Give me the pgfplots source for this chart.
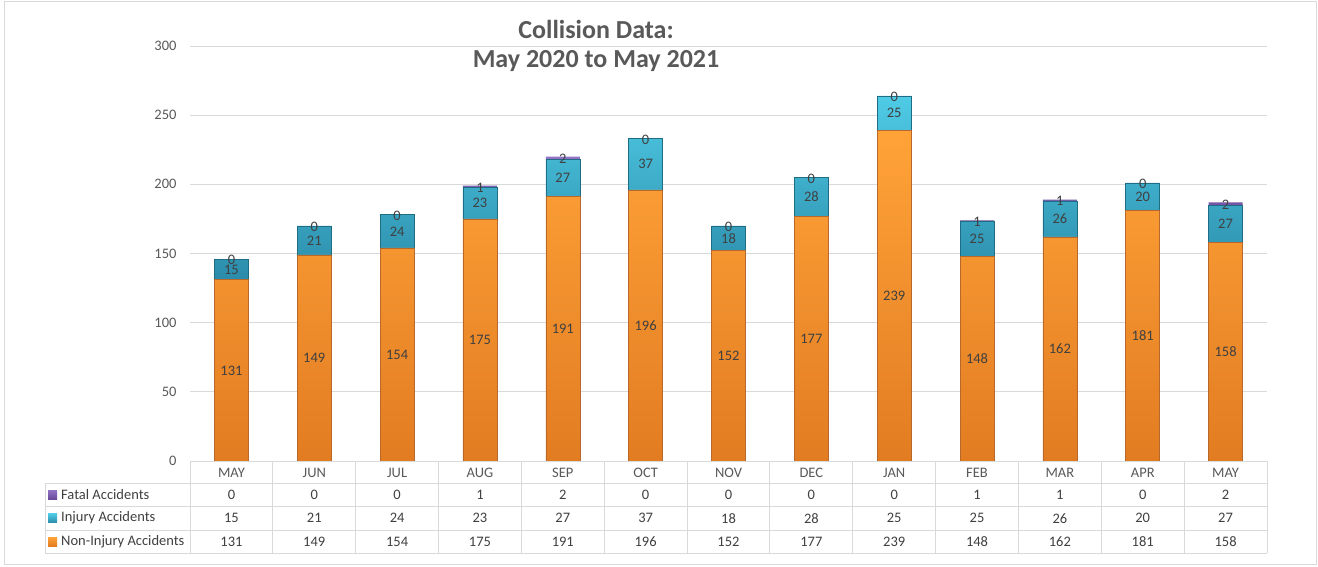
\documentclass[border=0pt]{standalone}
\usepackage{pgfplots}
\pgfplotsset{compat=1.18}
\usepackage{pgfplotstable}
\usepackage{fontspec}
\setmainfont{Carlito}
\definecolor{txt}{HTML}{595959}
\definecolor{lbl}{HTML}{404040}
\definecolor{gridc}{HTML}{D9D9D9}
\definecolor{orA}{HTML}{FFA338}
\definecolor{orB}{HTML}{E27C22}
\definecolor{orE}{HTML}{B8682A}
\definecolor{blA}{HTML}{4FCBE6}
\definecolor{blB}{HTML}{2B8CAA}
\definecolor{blE}{HTML}{1F6D85}
\definecolor{puA}{HTML}{9273C4}
\definecolor{puB}{HTML}{6A4A9A}
\newcommand{\fs}{\fontsize{14.5}{17}\selectfont}

\pgfplotstableread{
x month noninj injury fatal
0 MAY 131 15 0
1 JUN 149 21 0
2 JUL 154 24 0
3 AUG 175 23 1
4 SEP 191 27 2
5 OCT 196 37 0
6 NOV 152 18 0
7 DEC 177 28 0
8 JAN 239 25 0
9 FEB 148 25 1
10 MAR 162 26 1
11 APR 181 20 0
12 MAY 158 27 2
}\data

\begin{document}
\begin{tikzpicture}[x=1pt,y=1pt]
\useasboundingbox (0,0) rectangle (1318,566);
\fill[white] (0,0) rectangle (1318,566);
\draw[gridc, line width=1pt] (4,1.5) rectangle (1316,564.5);
\begin{axis}[
  at={(190pt,105pt)}, anchor=south west,
  scale only axis, width=1077pt, height=415pt,
  xmin=-0.5, xmax=12.5, ymin=0, ymax=300,
  ybar stacked, bar width=34pt,
  ytick={0,50,...,300},
  xtick=data,
  xticklabels from table={\data}{month},
  ymajorgrids, grid style={gridc, line width=1pt},
  axis line style={draw=none},
  major tick length=0pt,
  /pgf/number format/assume math mode=true,
  yticklabel style={font=\fs, text=txt, xshift=-10pt},
  xticklabel style={font=\fs, text=txt, anchor=center, yshift=-12pt},
  clip=false,
  point meta=explicit,
  nodes near coords style={font=\fs, text=lbl, anchor=center},
]
\addplot[top color=orA, bottom color=orB, draw=orE, line width=0.6pt,
  nodes near coords]
  table[x=x, y=noninj, meta=noninj] {\data};
\addplot[top color=blA, bottom color=blB, draw=blE, line width=0.6pt,
  nodes near coords]
  table[x=x, y=injury, meta=injury] {\data};
\addplot[top color=puA, bottom color=puB, draw=none]
  table[x=x, y=fatal, meta=fatal] {\data};
\pgfplotsinvokeforeach{0,...,12}{
  \pgfplotstablegetelem{#1}{fatal}\of\data \let\vf\pgfplotsretval
  \pgfplotstablegetelem{#1}{injury}\of\data \let\vi\pgfplotsretval
  \pgfplotstablegetelem{#1}{noninj}\of\data \let\vn\pgfplotsretval
  \edef\temp{%
    \noexpand\node[font=\noexpand\fs, text=lbl] at (axis cs:#1,-24.4) {\vf};
    \noexpand\node[font=\noexpand\fs, text=lbl] at (axis cs:#1,-41.4) {\vi};
    \noexpand\node[font=\noexpand\fs, text=lbl] at (axis cs:#1,-58.2) {\vn};}%
  \temp
}
\end{axis}
% overlay axis for the fatal labels on top of the stacks
\begin{axis}[
  at={(190pt,105pt)}, anchor=south west,
  scale only axis, width=1077pt, height=415pt,
  xmin=-0.5, xmax=12.5, ymin=0, ymax=300,
  hide axis, clip=false,
  point meta=explicit,
  /pgf/number format/assume math mode=true,
]
\addplot[draw=none, mark=none, nodes near coords,
  nodes near coords align={center},
  every node near coord/.append style={font=\fs, text=lbl, anchor=center, yshift=-1pt}]
  table[x=x, y expr={\thisrow{noninj}+\thisrow{injury}+0.5*\thisrow{fatal}}, meta=fatal] {\data};
\end{axis}
% table grid
\begin{scope}[gridc, line width=1pt]
\foreach \k in {0,...,13} {
  \draw ({190+\k*82.846},105) -- ({190+\k*82.846},13);
}
\draw (190,105) -- (1267,105);
\draw (45,83) -- (1267,83);
\draw (45,59.5) -- (1267,59.5);
\draw (45,36) -- (1267,36);
\draw (45,13) -- (1267,13);
\draw (45,83) -- (45,13);
\end{scope}
% legend keys
\shade[top color=puA, bottom color=puB] (48,67) rectangle (57,76);
\shade[top color=blA, bottom color=blB] (48,43.5) rectangle (57,52.5);
\shade[top color=orA, bottom color=orB] (48,20) rectangle (57,29);
\node[anchor=west, font=\fs, text=lbl, inner sep=0pt] at (61,71.5) {Fatal Accidents};
\node[anchor=west, font=\fs, text=lbl, inner sep=0pt] at (61,48) {Injury Accidents};
\node[anchor=west, font=\fs, text=lbl, inner sep=0pt] at (61,24.5) {Non-Injury Accidents};
% title
\node[font=\fontsize{26}{30}\selectfont\bfseries, text=txt] at (596,537) {Collision Data:};
\node[font=\fontsize{26}{30}\selectfont\bfseries, text=txt] at (596,505) {May 2020 to May 2021};
\end{tikzpicture}
\end{document}
